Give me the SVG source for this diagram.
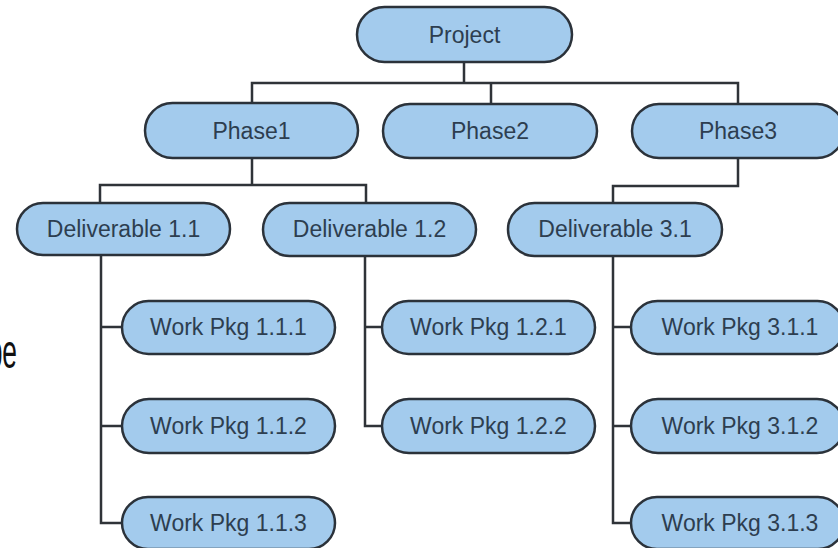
<svg xmlns="http://www.w3.org/2000/svg" width="838" height="548" viewBox="0 0 838 548">
<style>
.box{fill:#a3cbed;stroke:#2b323a;stroke-width:2.5}
.lbl{font-family:"Liberation Sans",Arial,sans-serif;font-size:23px;fill:#2d3e50;text-anchor:middle}
.con{fill:none;stroke:#2f3338;stroke-width:2.5;stroke-linejoin:miter;stroke-linecap:square}
</style>
<rect width="838" height="548" fill="#ffffff"/>
<text transform="translate(17,368) scale(0.55,1)" font-family="'Liberation Sans',Arial,sans-serif" font-size="48" fill="#111" text-anchor="end">pe</text>
<g id="connectors">
<path class="con" d="M464,62V83M252,83H738M252,83V103M491,83V105M738,83V105"/>
<path class="con" d="M252,158V185M100,185H366M100,185V203M366,185V203"/>
<path class="con" d="M738,158V186H613V203"/>
<path class="con" d="M101,255V523H122M101,327H122M101,426H122"/>
<path class="con" d="M365,256V426H382M365,327H382"/>
<path class="con" d="M613,256V523H631M613,327H631M613,426H631"/>
</g>
<g id="project"><rect class="box" x="357" y="7" width="215" height="55" rx="27.5"/><text class="lbl" x="464.5" y="43">Project</text></g>
<g id="phase1"><rect class="box" x="145" y="103" width="213" height="55" rx="27.5"/><text class="lbl" x="251.5" y="139">Phase1</text></g>
<g id="phase2"><rect class="box" x="383" y="104" width="214" height="54" rx="27"/><text class="lbl" x="490" y="139">Phase2</text></g>
<g id="phase3"><rect class="box" x="632" y="104" width="212" height="54" rx="27"/><text class="lbl" x="738" y="139">Phase3</text></g>
<g id="d11"><rect class="box" x="17" y="203" width="213" height="52" rx="26"/><text class="lbl" x="123.5" y="237">Deliverable 1.1</text></g>
<g id="d12"><rect class="box" x="263" y="203" width="213" height="53" rx="26.5"/><text class="lbl" x="369.5" y="237">Deliverable 1.2</text></g>
<g id="d31"><rect class="box" x="508" y="203" width="214" height="53" rx="26.5"/><text class="lbl" x="615" y="237">Deliverable 3.1</text></g>
<g id="wp111"><rect class="box" x="122" y="301" width="213" height="53" rx="26.5"/><text class="lbl" x="228.5" y="335">Work Pkg 1.1.1</text></g>
<g id="wp112"><rect class="box" x="122" y="399" width="213" height="54" rx="27"/><text class="lbl" x="228.5" y="434">Work Pkg 1.1.2</text></g>
<g id="wp113"><rect class="box" x="122" y="497" width="213" height="52" rx="26"/><text class="lbl" x="228.5" y="531">Work Pkg 1.1.3</text></g>
<g id="wp121"><rect class="box" x="382" y="301" width="213" height="53" rx="26.5"/><text class="lbl" x="488.5" y="335">Work Pkg 1.2.1</text></g>
<g id="wp122"><rect class="box" x="382" y="399" width="213" height="54" rx="27"/><text class="lbl" x="488.5" y="434">Work Pkg 1.2.2</text></g>
<g id="wp311"><rect class="box" x="631" y="301" width="213" height="53" rx="26.5"/><text class="lbl" x="740" y="335">Work Pkg 3.1.1</text></g>
<g id="wp312"><rect class="box" x="631" y="399" width="213" height="54" rx="27"/><text class="lbl" x="740" y="434">Work Pkg 3.1.2</text></g>
<g id="wp313"><rect class="box" x="631" y="497" width="213" height="52" rx="26"/><text class="lbl" x="740" y="531">Work Pkg 3.1.3</text></g>
</svg>
